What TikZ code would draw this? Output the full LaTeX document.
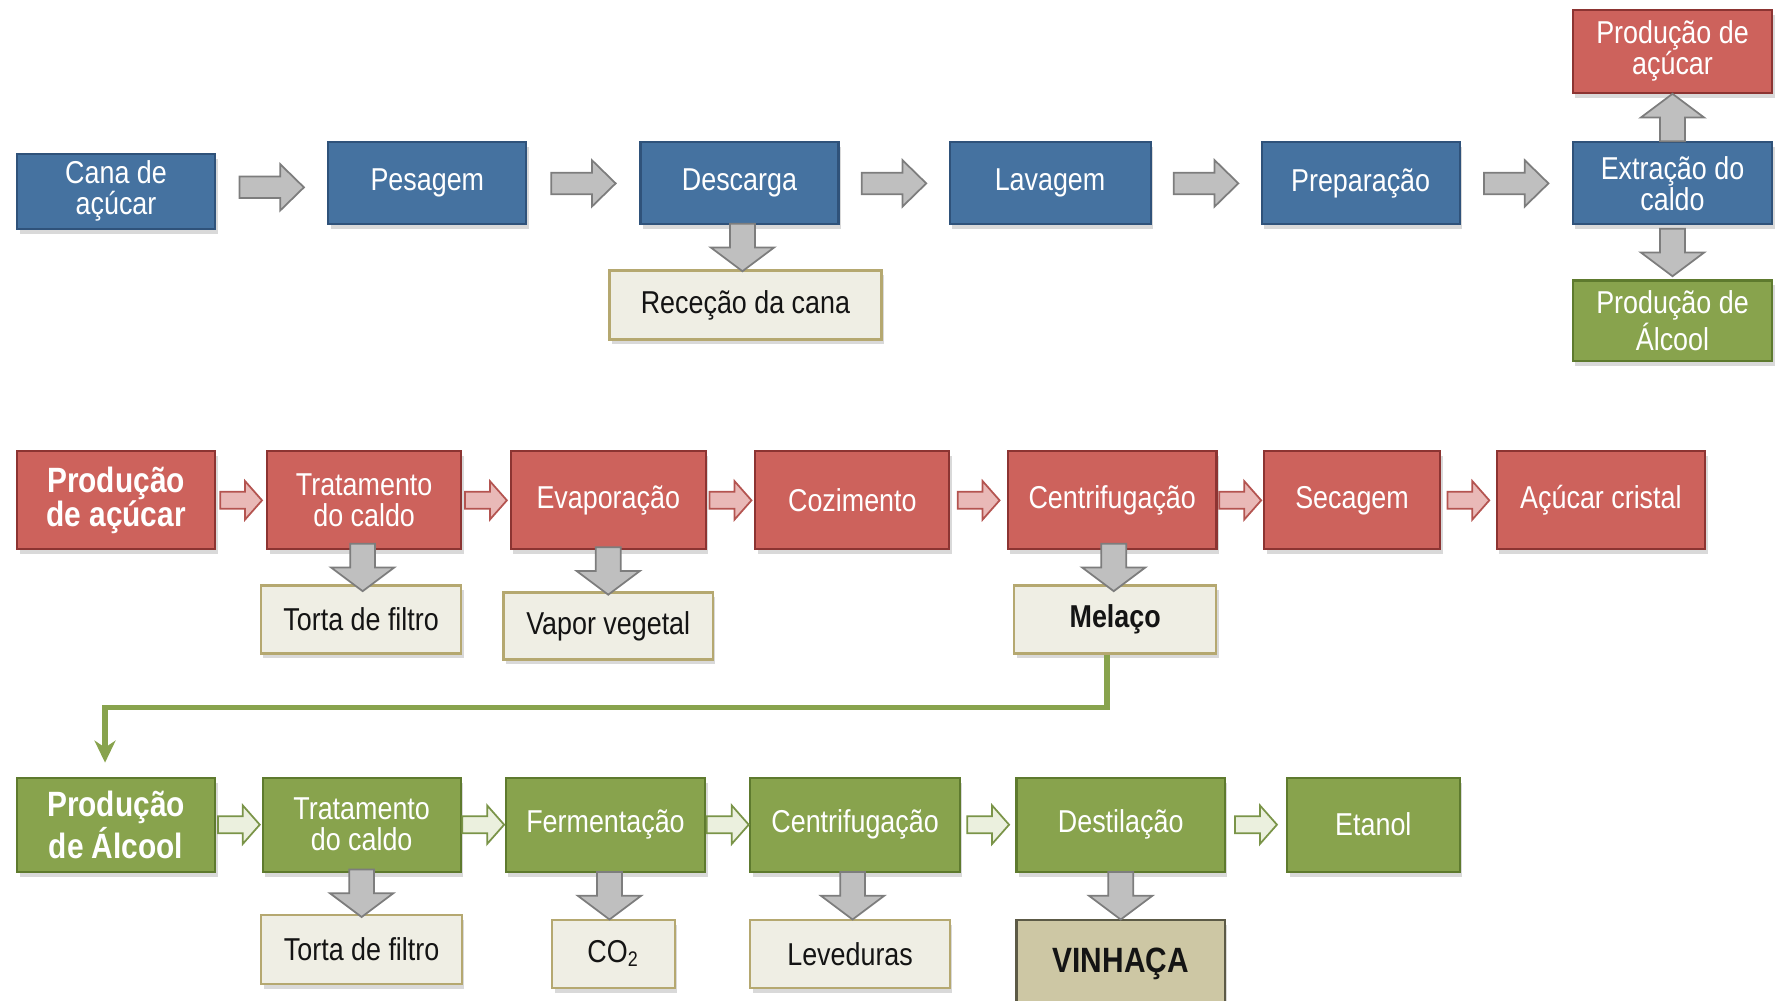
\documentclass[tikz,border=0pt]{standalone}
\usepackage{fontspec}
\setmainfont{Liberation Sans}[FakeStretch=0.85]
\usepackage{tikz}
\usetikzlibrary{positioning,arrows.meta,calc,shadows}
\definecolor{bluefill}{RGB}{69,114,160}
\definecolor{blueline}{RGB}{47,82,122}
\definecolor{redfill}{RGB}{205,98,92}
\definecolor{redline}{RGB}{140,52,50}
\definecolor{greenfill}{RGB}{136,163,77}
\definecolor{greenline}{RGB}{94,122,46}
\definecolor{beigefill}{RGB}{239,238,228}
\definecolor{beigeline}{RGB}{181,168,112}
\definecolor{vinfill}{RGB}{205,199,164}
\definecolor{vinline}{RGB}{92,90,70}
\definecolor{arrgray}{RGB}{191,191,191}
\definecolor{arrgrayd}{RGB}{125,125,125}
\definecolor{arrpink}{RGB}{233,185,183}
\definecolor{arrpinkd}{RGB}{180,84,80}
\definecolor{arrlgreen}{RGB}{235,240,222}
\definecolor{arrlgreend}{RGB}{122,148,72}
\definecolor{inkcol}{RGB}{20,20,20}

\begin{document}
\begin{tikzpicture}[
  x=0.1132mm, y=-0.1132mm,
  font=\fontsize{9}{8.8}\selectfont,
  box/.style={draw, line width=0.6pt, align=center, inner sep=1pt,
              drop shadow={shadow xshift=0.25mm, shadow yshift=-0.5mm, opacity=0.3}},
  bluebox/.style={box, fill=bluefill, draw=blueline, text=white},
  redbox/.style={box, fill=redfill, draw=redline, text=white},
  greenbox/.style={box, fill=greenfill, draw=greenline, text=white},
  outbox/.style={box, fill=beigefill, draw=beigeline, text=inkcol},
  headlbl/.style={font=\fontsize{10}{9.8}\selectfont\bfseries},
  conn/.style={-{Stealth[length=2.2mm, width=2.1mm, inset=0.7mm]}, line width=0.55mm, draw=greenfill},
  grayarr/.style={fill=arrgray, draw=arrgrayd, line width=0.5pt},
  pinkarr/.style={fill=arrpink, draw=arrpinkd, line width=0.5pt},
  lgreenarr/.style={fill=arrlgreen, draw=arrlgreend, line width=0.5pt},
  pics/bigarr/.style={code={\path[pic actions] (-28.5,-9.5) -- (7.5,-9.5) -- (7.5,-20.5)
      -- (28.5,0) -- (7.5,20.5) -- (7.5,9.5) -- (-28.5,9.5) -- cycle;}},
  pics/smallarr/.style={code={\path[pic actions] (-18.5,-7.5) -- (3.5,-7.5) -- (3.5,-17)
      -- (18.5,0) -- (3.5,17) -- (3.5,7.5) -- (-18.5,7.5) -- cycle;}},
  pics/downarr/.style={code={\path[pic actions] (-21,-11) -- (0,-11) -- (0,-28)
      -- (21,0) -- (0,28) -- (0,11) -- (-21,11) -- cycle;}},
]
\useasboundingbox (0,0) rectangle (1568,884);

% ---------- row 1: reception of the cane ----------
\node[bluebox, minimum width=19.8mm, minimum height=7.5mm] (cana) at (102.5,169) {Cana de\\açúcar};
\node[bluebox, minimum width=19.8mm, minimum height=8.2mm] (pes) at (377.5,162) {Pesagem};
\node[bluebox, minimum width=19.8mm, minimum height=8.2mm, right=11.2mm of pes] (desc) {Descarga};
\node[bluebox, minimum width=20.1mm, minimum height=8.2mm, right=10.9mm of desc] (lav) {Lavagem};
\node[bluebox, minimum width=19.8mm, minimum height=8.2mm, right=10.9mm of lav] (prep) {Preparação};
\node[bluebox, minimum width=19.95mm, minimum height=8.2mm, right=11.1mm of prep] (extr) {Extração do\\caldo};
\node[redbox, minimum width=19.95mm, minimum height=8.3mm, above=4.75mm of extr] (proda) {Produção de\\açúcar};
\node[greenbox, minimum width=19.95mm, minimum height=8.05mm, below=5.4mm of extr] (prodb) {Produção de\\Álcool};
\node[outbox, minimum width=27.2mm, minimum height=6.9mm, below=4.4mm of desc, xshift=0.6mm] (rec) {Receção da cana};

\pic[grayarr] at ($(cana.east)!0.5!(pes.west)$) {bigarr};
\pic[grayarr] at ($(pes.east)!0.5!(desc.west)$) {bigarr};
\pic[grayarr] at ($(desc.east)!0.5!(lav.west)$) {bigarr};
\pic[grayarr] at ($(lav.east)!0.5!(prep.west)$) {bigarr};
\pic[grayarr] at ($(prep.east)!0.5!(extr.west)$) {bigarr};
\pic[grayarr, rotate=-90] at ($(desc.south)!0.5!(rec.north)$) {downarr};
\pic[grayarr, rotate=90] at ($(extr.north)!0.5!(proda.south)$) {downarr};
\pic[grayarr, rotate=-90] at ($(extr.south)!0.5!(prodb.north)$) {downarr};

% ---------- row 2: sugar ----------
\node[redbox, headlbl, minimum width=19.8mm, minimum height=9.8mm] (pa) at (102.5,442) {Produção\\de açúcar};
\node[redbox, minimum width=19.4mm, minimum height=9.8mm, right=5mm of pa] (trat) {Tratamento\\do caldo};
\node[redbox, minimum width=19.5mm, minimum height=9.8mm, right=4.75mm of trat] (evap) {Evaporação};
\node[redbox, minimum width=19.4mm, minimum height=9.8mm, right=4.75mm of evap] (coz) {Cozimento};
\node[redbox, minimum width=20.85mm, minimum height=9.8mm, right=5.65mm of coz] (cent) {Centrifugação};
\node[redbox, minimum width=17.6mm, minimum height=9.8mm, right=4.55mm of cent] (sec) {Secagem};
\node[redbox, minimum width=20.85mm, minimum height=9.8mm, right=5.45mm of sec] (acc) {Açúcar cristal};

\node[outbox, minimum width=20.05mm, minimum height=6.8mm, below=3.4mm of trat, xshift=-0.3mm] (torta) {Torta de filtro};
\node[outbox, minimum width=20.95mm, minimum height=6.7mm, below=4.1mm of evap] (vapor) {Vapor vegetal};
\node[outbox, font=\fontsize{9}{8.8}\selectfont\bfseries, minimum width=20.2mm, minimum height=6.8mm,
      below=3.4mm of cent, xshift=0.3mm] (melaco) {Melaço};

\pic[pinkarr] at ($(pa.east)!0.5!(trat.west)$) {smallarr};
\pic[pinkarr] at ($(trat.east)!0.5!(evap.west)$) {smallarr};
\pic[pinkarr] at ($(evap.east)!0.5!(coz.west)$) {smallarr};
\pic[pinkarr] at ($(coz.east)!0.5!(cent.west)$) {smallarr};
\pic[pinkarr] at ($(cent.east)!0.5!(sec.west)$) {smallarr};
\pic[pinkarr] at ($(sec.east)!0.5!(acc.west)$) {smallarr};
\pic[grayarr, rotate=-90] at ($(trat.south)!0.5!(torta.north)$) {downarr};
\pic[grayarr, rotate=-90] at ($(evap.south)!0.5!(vapor.north)$) {downarr};
\pic[grayarr, rotate=-90] at ($(cent.south)!0.5!(melaco.north)$) {downarr};

% ---------- row 3: alcohol ----------
\node[greenbox, headlbl, minimum width=19.8mm, minimum height=9.4mm] (pb) at (102.5,728.5) {Produção\\de Álcool};
\node[greenbox, minimum width=19.8mm, minimum height=9.4mm, right=4.55mm of pb] (trat2) {Tratamento\\do caldo};
\node[greenbox, minimum width=19.95mm, minimum height=9.4mm, right=4.3mm of trat2] (ferm) {Fermentação};
\node[greenbox, minimum width=20.95mm, minimum height=9.4mm, right=4.3mm of ferm] (cent2) {Centrifugação};
\node[greenbox, minimum width=20.85mm, minimum height=9.4mm, right=5.45mm of cent2] (dest) {Destilação};
\node[greenbox, minimum width=17.25mm, minimum height=9.4mm, right=6mm of dest] (etanol) {Etanol};

\node[outbox, minimum width=20.05mm, minimum height=6.9mm, below=4.1mm of trat2] (torta2) {Torta de filtro};
\node[outbox, minimum width=12.25mm, minimum height=6.8mm, below=4.6mm of ferm, xshift=0.8mm] (co2) {CO\textsubscript{2}};
\node[outbox, minimum width=19.95mm, minimum height=6.8mm, below=4.6mm of cent2, xshift=-0.5mm] (lev) {Leveduras};
\node[box, fill=vinfill, draw=vinline, text=inkcol, font=\fontsize{10}{10}\selectfont\bfseries,
      minimum width=20.85mm, minimum height=8.8mm, below=4.6mm of dest] (vinh) {VINHAÇA};

\pic[lgreenarr] at ($(pb.east)!0.5!(trat2.west)$) {smallarr};
\pic[lgreenarr] at ($(trat2.east)!0.5!(ferm.west)$) {smallarr};
\pic[lgreenarr] at ($(ferm.east)!0.5!(cent2.west)$) {smallarr};
\pic[lgreenarr] at ($(cent2.east)!0.5!(dest.west)$) {smallarr};
\pic[lgreenarr] at ($(dest.east)!0.5!(etanol.west)$) {smallarr};
\pic[grayarr, rotate=-90] at ($(trat2.south)!0.5!(torta2.north)$) {downarr};
\pic[grayarr, rotate=-90] at ($(ferm.south)!0.5!(co2.north)$) {downarr};
\pic[grayarr, rotate=-90] at ($(cent2.south)!0.5!(lev.north)$) {downarr};
\pic[grayarr, rotate=-90] at ($(dest.south)!0.5!(vinh.north)$) {downarr};

% ---------- molasses go to the alcohol line ----------
\draw[conn] ([xshift=-0.8mm]melaco.south) -- ++(0,47) -| ([xshift=-1.1mm, yshift=1.4mm]pb.north);

\end{tikzpicture}
\end{document}
